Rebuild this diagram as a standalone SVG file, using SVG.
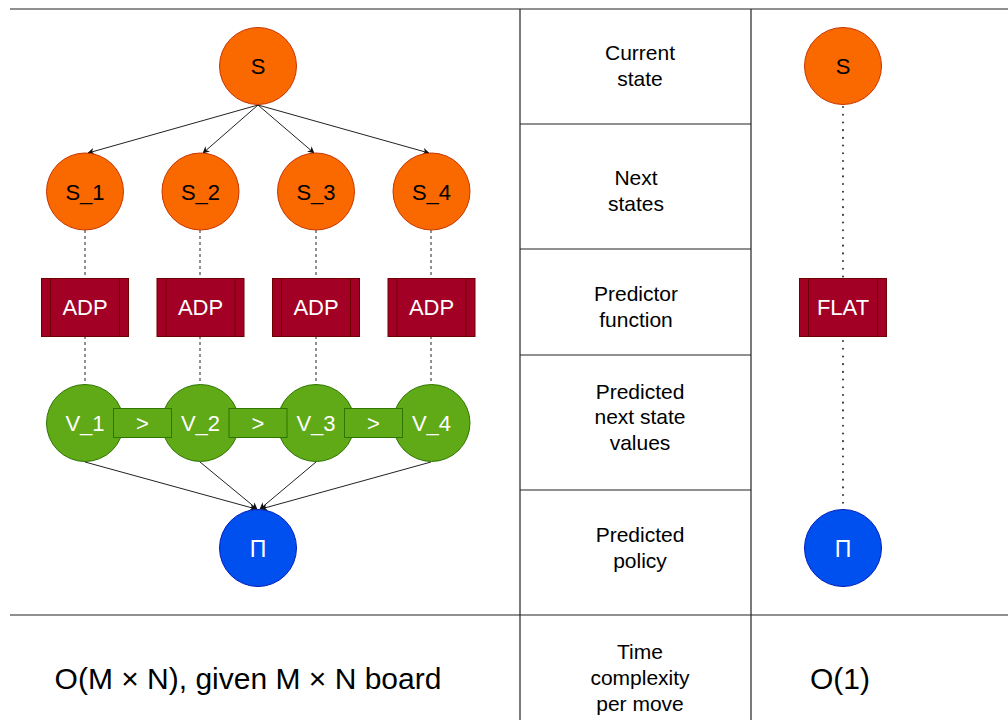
<svg xmlns="http://www.w3.org/2000/svg" width="1008" height="720" viewBox="0 0 1008 720">
<defs>
<style>
.t{font-family:"Liberation Sans",Arial,Helvetica,sans-serif;font-size:21px;text-anchor:middle}
.n{font-size:22px}
.pi{font-size:23px}
.k{fill:#000}
.w{fill:#fff}
.orange{fill:#FA6800;stroke:#C73500;stroke-width:1}
.red{fill:#A20025;stroke:#6F0000;stroke-width:1}
.green{fill:#60A917;stroke:#2D7600;stroke-width:1}
.blue{fill:#0050EF;stroke:#001DBC;stroke-width:1}
.grid{stroke:#222;stroke-width:1.2;fill:none}
.arrow{stroke:#222;stroke-width:1;fill:none;marker-end:url(#ah)}
.dash{stroke:#222;stroke-width:1;stroke-dasharray:3 3;fill:none}
.dot{stroke:#333;stroke-width:2;stroke-dasharray:0.1 7.6;stroke-linecap:round;fill:none}
</style>
<marker id="ah" viewBox="0 0 10 10" refX="9" refY="5" markerWidth="7" markerHeight="7" orient="auto" markerUnits="userSpaceOnUse">
<path d="M0,0 L10,5 L0,10 L3,5 Z" fill="#111"/>
</marker>
</defs>
<rect width="1008" height="720" fill="#fff"/>
<g id="table">
<line class="grid" x1="10" y1="9" x2="1008" y2="9"/>
<line class="grid" x1="10" y1="615" x2="1008" y2="615"/>
<line class="grid" x1="520" y1="9" x2="520" y2="720"/>
<line class="grid" x1="751" y1="9" x2="751" y2="720"/>
<line class="grid" x1="520" y1="124" x2="751" y2="124"/>
<line class="grid" x1="520" y1="249" x2="751" y2="249"/>
<line class="grid" x1="520" y1="355" x2="751" y2="355"/>
<line class="grid" x1="520" y1="490" x2="751" y2="490"/>
</g>
<g id="row-labels">
<text class="t k" x="640" y="60">Current</text>
<text class="t k" x="640" y="86">state</text>
<text class="t k" x="636" y="185">Next</text>
<text class="t k" x="636" y="211">states</text>
<text class="t k" x="636" y="301">Predictor</text>
<text class="t k" x="636" y="327">function</text>
<text class="t k" x="640" y="399">Predicted</text>
<text class="t k" x="640" y="424">next state</text>
<text class="t k" x="640" y="450">values</text>
<text class="t k" x="640" y="542">Predicted</text>
<text class="t k" x="640" y="568">policy</text>
<text class="t k" x="640" y="659">Time</text>
<text class="t k" x="640" y="685">complexity</text>
<text class="t k" x="640" y="711">per move</text>
</g>
<g id="connectors">
<line class="arrow" x1="258" y1="105" x2="88" y2="153"/>
<line class="arrow" x1="258" y1="105" x2="203" y2="153"/>
<line class="arrow" x1="258" y1="105" x2="314" y2="153"/>
<line class="arrow" x1="258" y1="105" x2="429" y2="153"/>
<line class="dash" x1="85" y1="230" x2="85" y2="278"/>
<line class="dash" x1="200" y1="230" x2="200" y2="278"/>
<line class="dash" x1="316" y1="230" x2="316" y2="278"/>
<line class="dash" x1="431" y1="230" x2="431" y2="278"/>
<line class="dash" x1="85" y1="336" x2="85" y2="384"/>
<line class="dash" x1="200" y1="336" x2="200" y2="384"/>
<line class="dash" x1="316" y1="336" x2="316" y2="384"/>
<line class="dash" x1="431" y1="336" x2="431" y2="384"/>
<line class="arrow" x1="85" y1="462" x2="256" y2="509"/>
<line class="arrow" x1="200" y1="462" x2="257" y2="509"/>
<line class="arrow" x1="316" y1="462" x2="260" y2="509"/>
<line class="arrow" x1="431" y1="462" x2="261" y2="509"/>
<line class="dot" x1="843" y1="107" x2="843" y2="277"/>
<line class="dot" x1="843" y1="341" x2="843" y2="508"/>
</g>
<g id="node-S"><circle class="orange" cx="258" cy="66" r="38.5"/><text class="t n k" x="258" y="74">S</text></g>
<g id="node-S1"><circle class="orange" cx="85" cy="191.5" r="38.5"/><text class="t n k" x="85" y="199.5">S_1</text></g>
<g id="node-S2"><circle class="orange" cx="200.5" cy="191.5" r="38.5"/><text class="t n k" x="200.5" y="199.5">S_2</text></g>
<g id="node-S3"><circle class="orange" cx="316" cy="191.5" r="38.5"/><text class="t n k" x="316" y="199.5">S_3</text></g>
<g id="node-S4"><circle class="orange" cx="431.5" cy="191.5" r="38.5"/><text class="t n k" x="431.5" y="199.5">S_4</text></g>
<g id="node-ADP1"><rect class="red" x="41.5" y="278.5" width="87" height="58"/><line class="red" x1="50.5" y1="278.5" x2="50.5" y2="336.5"/><line class="red" x1="119.5" y1="278.5" x2="119.5" y2="336.5"/><text class="t n w" x="85" y="315">ADP</text></g>
<g id="node-ADP2"><rect class="red" x="157" y="278.5" width="87" height="58"/><line class="red" x1="166" y1="278.5" x2="166" y2="336.5"/><line class="red" x1="235" y1="278.5" x2="235" y2="336.5"/><text class="t n w" x="200.5" y="315">ADP</text></g>
<g id="node-ADP3"><rect class="red" x="272.5" y="278.5" width="87" height="58"/><line class="red" x1="281.5" y1="278.5" x2="281.5" y2="336.5"/><line class="red" x1="350.5" y1="278.5" x2="350.5" y2="336.5"/><text class="t n w" x="316" y="315">ADP</text></g>
<g id="node-ADP4"><rect class="red" x="388" y="278.5" width="87" height="58"/><line class="red" x1="397" y1="278.5" x2="397" y2="336.5"/><line class="red" x1="466" y1="278.5" x2="466" y2="336.5"/><text class="t n w" x="431.5" y="315">ADP</text></g>
<g id="node-V1"><circle class="green" cx="85" cy="423" r="38.5"/><text class="t n w" x="85" y="431">V_1</text></g>
<g id="node-V2"><circle class="green" cx="200.5" cy="423" r="38.5"/><text class="t n w" x="200.5" y="431">V_2</text></g>
<g id="node-V3"><circle class="green" cx="316" cy="423" r="38.5"/><text class="t n w" x="316" y="431">V_3</text></g>
<g id="node-V4"><circle class="green" cx="431.5" cy="423" r="38.5"/><text class="t n w" x="431.5" y="431">V_4</text></g>
<g id="node-gt1"><rect class="green" x="113.5" y="408.5" width="58" height="29"/><text class="t n w" x="142.5" y="431">&gt;</text></g>
<g id="node-gt2"><rect class="green" x="229" y="408.5" width="58" height="29"/><text class="t n w" x="258" y="431">&gt;</text></g>
<g id="node-gt3"><rect class="green" x="344.5" y="408.5" width="58" height="29"/><text class="t n w" x="373.5" y="431">&gt;</text></g>
<g id="node-Pi"><circle class="blue" cx="258" cy="548" r="38.5"/><text class="t pi w" x="258" y="557">Π</text></g>
<g id="node-S-flat"><circle class="orange" cx="843" cy="66" r="38.5"/><text class="t n k" x="843" y="74">S</text></g>
<g id="node-FLAT"><rect class="red" x="799.5" y="278.5" width="87" height="58"/><line class="red" x1="808.5" y1="278.5" x2="808.5" y2="336.5"/><line class="red" x1="877.5" y1="278.5" x2="877.5" y2="336.5"/><text class="t n w" x="843" y="315">FLAT</text></g>
<g id="node-Pi-flat"><circle class="blue" cx="843" cy="548" r="38.5"/><text class="t pi w" x="843" y="557">Π</text></g>
<g id="complexity">
<text class="t k" x="248" y="689" style="font-size:30px">O(M × N), given M × N board</text>
<text class="t k" x="840" y="689" style="font-size:30px">O(1)</text>
</g>
</svg>
